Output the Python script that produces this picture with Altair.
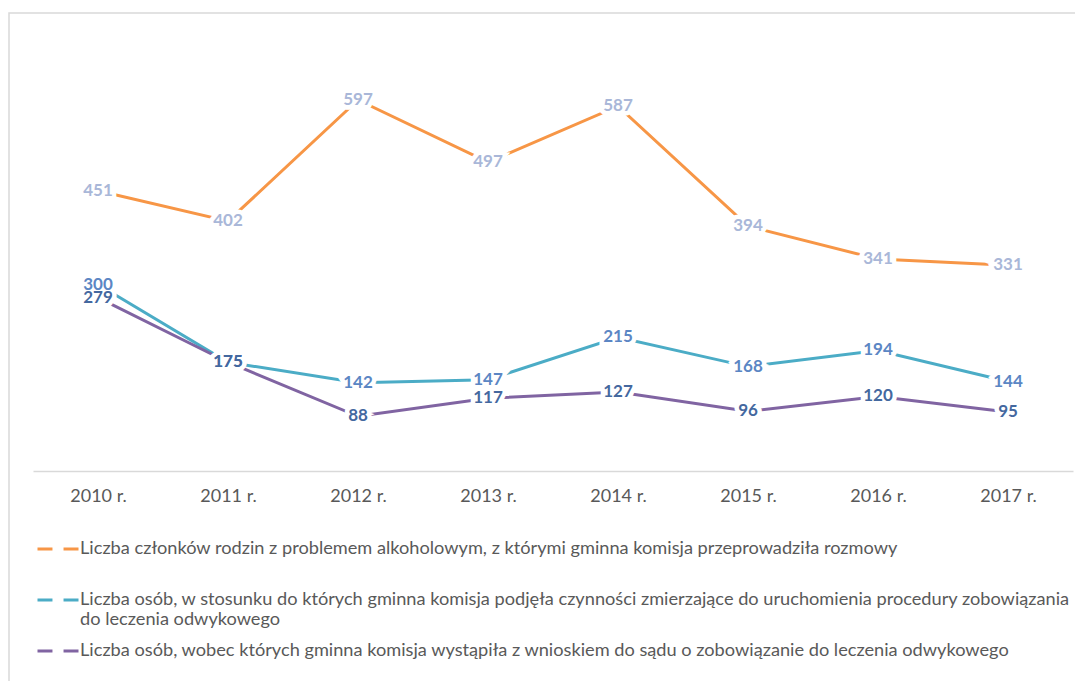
import altair as alt
import pandas as pd

years = ["2010 r.", "2011 r.", "2012 r.", "2013 r.", "2014 r.", "2015 r.", "2016 r.", "2017 r."]
s1_name = "Liczba członków rodzin z problemem alkoholowym, z którymi gminna komisja przeprowadziła rozmowy"
s2_name = "Liczba osób, w stosunku do których gminna komisja podjęła czynności zmierzające do uruchomienia procedury zobowiązania do leczenia odwykowego"
s3_name = "Liczba osób, wobec których gminna komisja wystąpiła z wnioskiem do sądu o zobowiązanie do leczenia odwykowego"
s1_vals = [451, 402, 597, 497, 587, 394, 341, 331]
s2_vals = [300, 175, 142, 147, 215, 168, 194, 144]
s3_vals = [279, 175, 88, 117, 127, 96, 120, 95]

series = [s1_name, s2_name, s3_name]
line_colors = ["#F79646", "#4BACC6", "#8064A2"]
label_colors = ["#A9B7D8", "#5B86C4", "#44689F"]

rows = []
for name, vals, lc in zip(series, [s1_vals, s2_vals, s3_vals], label_colors):
    for y, v in zip(years, vals):
        rows.append({"year": y, "value": v, "series": name, "lc": lc})
df = pd.DataFrame(rows)

FONT = "Lato"
s2_line1 = "Liczba osób, w stosunku do których gminna komisja podjęła czynności zmierzające do uruchomienia procedury zobowiązania"
s2_line2 = "do leczenia odwykowego"
label_expr = (
    f"datum.label == '{s2_name}' ? ['{s2_line1}', '{s2_line2}'] : [datum.label, '']"
)

x_enc = alt.X("year:N", sort=years, title=None,
              scale=alt.Scale(paddingInner=0, paddingOuter=0),
              axis=alt.Axis(labelAngle=0, ticks=False, domainColor="#D9D9D9",
                            domainWidth=1.5, labelColor="#595959", labelFontSize=18,
                            labelFont=FONT, labelPadding=16, grid=False))
y_enc = alt.Y("value:Q", scale=alt.Scale(domain=[0, 700]), axis=None)

base = alt.Chart(df)

lines = base.mark_line(strokeWidth=3).encode(
    x=x_enc, y=y_enc,
    color=alt.Color("series:N", sort=series,
                    scale=alt.Scale(domain=series, range=line_colors),
                    legend=alt.Legend(title=None, orient="none", legendX=3, legendY=491,
                                      direction="vertical", columns=1,
                                      symbolType="M-1,0L-0.27,0M0.27,0L1,0",
                                      symbolSize=1681, symbolStrokeWidth=3,
                                      labelFont=FONT, labelFontSize=18.2,
                                      labelColor="#595959", labelLimit=1100,
                                      labelOffset=0, rowPadding=-1.5, padding=0,
                                      labelExpr=label_expr)),
)

halo = base.mark_text(font=FONT, fontSize=17, fontWeight="bold",
                      stroke="white", strokeWidth=9, fill="white").encode(
    x=x_enc, y=y_enc, text=alt.Text("value:Q"),
)
labels = base.mark_text(font=FONT, fontSize=17, fontWeight="bold").encode(
    x=x_enc, y=y_enc, text=alt.Text("value:Q"),
    fill=alt.Fill("lc:N", scale=None),
)

border = alt.Chart(pd.DataFrame({"k": [0]})).mark_rect(
    fill=None, stroke="#D9D9D9", strokeWidth=1.5
).encode(x=alt.value(-24), x2=alt.value(1200), y=alt.value(-23), y2=alt.value(800))

chart = alt.layer(border, lines, halo, labels).properties(
    width=1040, height=435,
    autosize=alt.AutoSizeParams(type="none"),
    padding={"left": 25, "top": 28, "right": 2, "bottom": 210},
).configure_view(stroke=None)

chart.save("out.html", embed_options={"renderer": "svg", "actions": False})
